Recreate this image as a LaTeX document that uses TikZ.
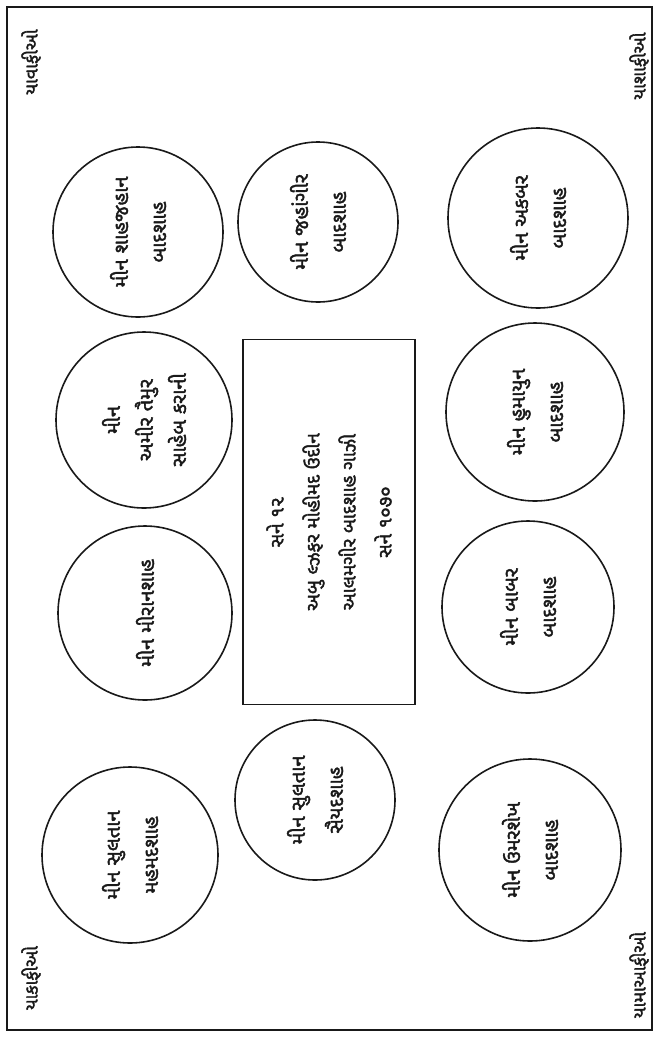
\documentclass[tikz,border=0pt]{standalone}
\usepackage{fontspec}
\usepackage{tikz}
\newfontfamily\gujfont[Script=Gujarati,FakeBold=2]{Noto Sans Gujarati UI}
\definecolor{inkblack}{RGB}{25,25,25}
\tikzset{
  medal/.style={circle, draw=inkblack, line width=1.6pt, minimum size=#1,
    inner sep=0pt, rotate=90, align=center, text=inkblack,
    font=\gujfont\fontsize{20}{38}\selectfont},
  medal/.default=172pt,
  sealbox/.style={rectangle, draw=inkblack, line width=1.1pt, rotate=90,
    minimum width=365pt, minimum height=172pt, align=center, text=inkblack,
    font=\gujfont\fontsize{19}{36}\selectfont},
  corner/.style={rotate=90, inner sep=0pt, text=inkblack,
    font=\gujfont\fontsize{18}{20}\selectfont},
  frame/.style={draw=inkblack, line width=2.8pt}
}
\begin{document}
\begin{tikzpicture}[x=1pt, y=-1pt]
  \useasboundingbox (0,0) rectangle (659,1037);
  % Outer frame
  \draw[frame] (7,7) rectangle (652,1030);

  % Corner words
  \node[corner] (cornerTL) at (31,62) {યાવાફીઓ};
  \node[corner] (cornerTR) at (639,66) {યાશાફીઓ};
  \node[corner] (cornerBL) at (31,978) {યાકાફીઓ};
  \node[corner] (cornerBR) at (639,975) {યામાઆફીઓ};

  % Left column
  \node[medal=170pt] (shahjahan) at (138,232) {મીન શાહજહાન\\ બાદશાહ};
  \node[medal=176pt, font=\gujfont\fontsize{20}{33}\selectfont] (taimur) at (144,420) {મીન\\ અમીર તૈમુર\\ સાહેબ કરાની};
  \node[medal=174pt] (miranshah) at (145,613) {મીન મીરાનશાહ};
  \node[medal=176pt] (mahmad) at (130,855) {મીન સુલતાન\\ મહમદશાહ};

  % Middle column
  \node[medal=160pt] (jahangir) at (318,222) {મીન જહાંગીર\\ બાદશાહ};
  \node[sealbox] (seal) at (329,522) {સને ૧૨\\ અબુ લ્ઝફર મોહીમદ ઉદીન\\ આલમગીર બાદશાહ ગાઝી\\ સને ૧૦૭૦};
  \node[medal=160pt] (saiyad) at (315,800) {મીન સુલતાન\\ સૈયદશાહ};

  % Right column
  \node[medal=180pt] (akbar) at (538,218) {મીન અકબર\\ બાદશાહ};
  \node[medal=178pt] (humayun) at (535,412) {મીન હુમાયુન\\ બાદશાહ};
  \node[medal=172pt] (babar) at (528,607) {મીન બાબર\\ બાદશાહ};
  \node[medal=182pt] (umarshekh) at (530,850) {મીન ઉમરશેખ\\ બાદશાહ};
\end{tikzpicture}
\end{document}
